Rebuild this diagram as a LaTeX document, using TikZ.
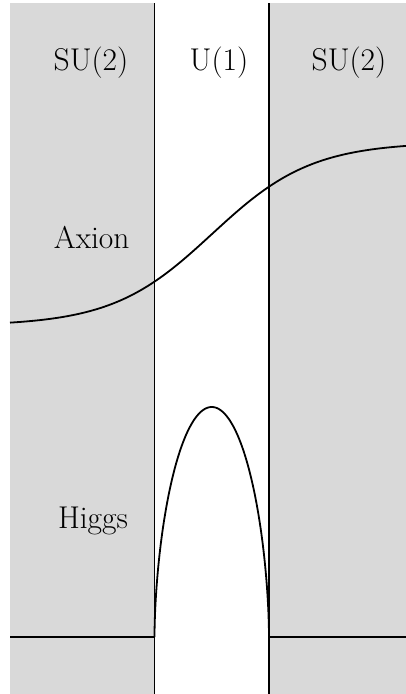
\documentclass[tikz,border=0pt]{standalone}
\begin{document}
\begin{tikzpicture}[x=1pt,y=-1pt,
  region/.style={fill=black!15,draw=none},
  wall/.style={line width=1.8pt},
  field/.style={line width=1.8pt,line join=round},
  lbl/.style={anchor=base,inner sep=0pt,font=\fontsize{31.5}{36}\selectfont}]
\useasboundingbox (0,0) rectangle (406,694);
% regions
\fill[region] (10,3) rectangle (154.5,694);
\fill[region] (269,3) rectangle (406,694);
% named points
\coordinate (lt) at (154.5,3);
\coordinate (lb) at (154.5,694);
\coordinate (rt) at (269,3);
\coordinate (rb) at (269,694);
\coordinate (hl0) at (10,637);
\coordinate (hl1) at (154.5,637);
\coordinate (hr0) at (269,637);
\coordinate (hr1) at (406,637);
% walls
\draw[wall] (lt) -- (lb);
\draw[wall] (rt) -- (rb);
% Higgs vacuum lines
\draw[field] (hl0) -- (hl1);
\draw[field] (hr0) -- (hr1);
% Axion profile
\draw[field] plot[domain=10:406,samples=120,smooth] (\x,{234-91.8*tanh((\x-212)/100)});
% Higgs profile
\draw[field] (hl1) -- plot[domain=-89.5:89.5,samples=181] ({211.75+57.25*sin(\x)},{637-230*cos(\x)^1.15}) -- (hr0);
% labels
\node[lbl] (su2l) at (91,70.5) {SU(2)};
\node[lbl] (u1) at (219,70.5) {U(1)};
\node[lbl] (su2r) at (349,70.5) {SU(2)};
\node[lbl] (axion) at (91.7,248) {Axion};
\node[lbl] (higgs) at (93,528) {Higgs};
\end{tikzpicture}
\end{document}
